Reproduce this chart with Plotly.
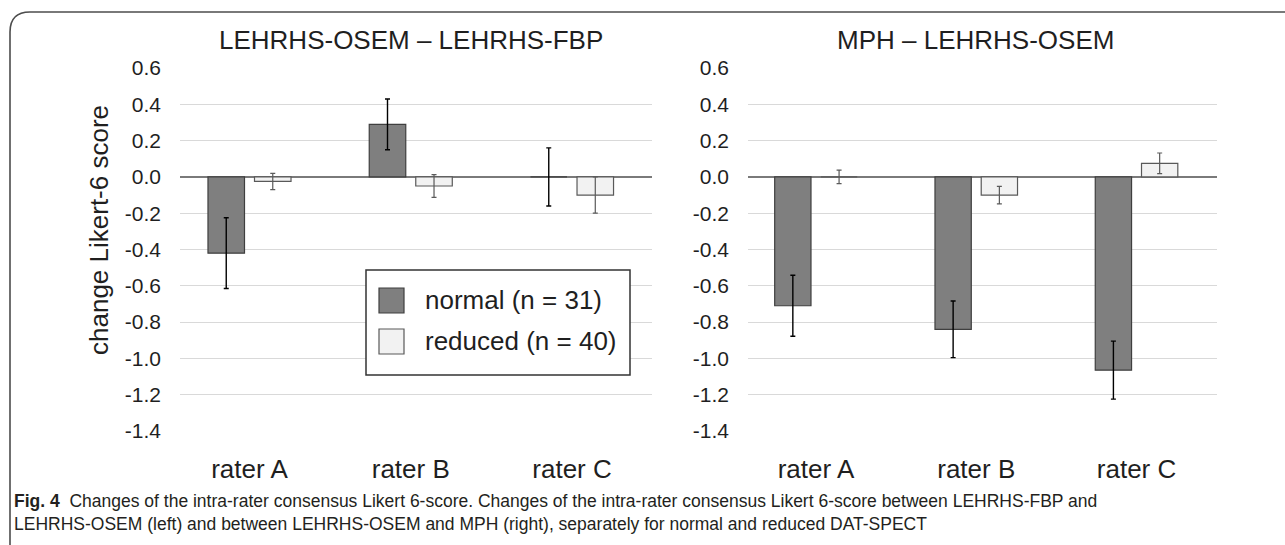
import plotly.graph_objects as go

W, H = 1285, 545

categories = ["rater A", "rater B", "rater C"]
series_names = ["normal (n = 31)", "reduced (n = 40)"]

left_title = "LEHRHS-OSEM – LEHRHS-FBP"
right_title = "MPH – LEHRHS-OSEM"
y_title = "change Likert-6 score"

left_normal = [-0.42, 0.29, 0.0]
left_normal_err = [0.195, 0.14, 0.16]
left_reduced = [-0.025, -0.05, -0.10]
left_reduced_err = [0.045, 0.063, 0.10]

right_normal = [-0.71, -0.84, -1.065]
right_normal_err = [0.168, 0.156, 0.16]
right_reduced = [0.0, -0.10, 0.075]
right_reduced_err = [0.037, 0.048, 0.057]

y_ticks = [0.6, 0.4, 0.2, 0.0, -0.2, -0.4, -0.6, -0.8, -1.0, -1.2, -1.4]

caption_l1 = ("<b>Fig. 4</b>  Changes of the intra-rater consensus Likert 6-score. Changes of the intra-rater "
              "consensus Likert 6-score between LEHRHS-FBP and")
caption_l2 = ("LEHRHS-OSEM (left) and between LEHRHS-OSEM and MPH (right), separately for normal and "
              "reduced DAT-SPECT")

FONT = "Liberation Sans, Arial, sans-serif"
TXT = "#1f1f1f"
NORMAL_FILL, NORMAL_LINE = "#7f7f7f", "#3f3f3f"
REDUCED_FILL, REDUCED_LINE = "#f2f2f2", "#595959"


def px(x):
    return x / W


def py(y):
    return 1 - y / H


fig = go.Figure()

panels = [
    ("x", "y", left_normal, left_normal_err, left_reduced, left_reduced_err),
    ("x2", "y2", right_normal, right_normal_err, right_reduced, right_reduced_err),
]
for xa, ya, nv, ne, rv, re_ in panels:
    fig.add_trace(go.Bar(
        x=categories, y=nv, name=series_names[0], xaxis=xa, yaxis=ya,
        marker=dict(color=NORMAL_FILL, line=dict(color=NORMAL_LINE, width=1.2)),
        error_y=dict(type="data", array=ne, color="#000000", thickness=1.4, width=2.5),
        showlegend=False))
    fig.add_trace(go.Bar(
        x=categories, y=rv, name=series_names[1], xaxis=xa, yaxis=ya,
        marker=dict(color=REDUCED_FILL, line=dict(color=REDUCED_LINE, width=1.2)),
        error_y=dict(type="data", array=re_, color="#5a5a5a", thickness=1.2, width=2.5),
        showlegend=False))

ydom = [py(431), py(68)]
yax = dict(range=[-1.4005, 0.6005], domain=ydom, tickvals=y_ticks,
           ticktext=[f"{v:.1f}" for v in y_ticks], showgrid=True, gridcolor="#d9d9d9",
           gridwidth=1, zeroline=True, zerolinecolor="#7a7a7a", zerolinewidth=1.5,
           showline=False, ticks="", tickfont=dict(size=21, color=TXT, family=FONT),
           ticklabelstandoff=18, automargin=False)
xax = dict(showgrid=False, zeroline=False, showline=False, ticks="",
           tickfont=dict(size=26, color=TXT, family=FONT), ticklabelstandoff=20,
           automargin=False)

fig.update_layout(
    width=W, height=H, margin=dict(l=0, r=0, t=0, b=0, pad=0, autoexpand=False),
    paper_bgcolor="white", plot_bgcolor="white",
    barmode="group", bargap=0.423, bargroupgap=0.215,
    font=dict(family=FONT, color=TXT),
    showlegend=False,
    xaxis=dict(xax, domain=[px(180), px(652)], range=[-0.431, 2.496], anchor="y"),
    xaxis2=dict(xax, domain=[px(748), px(1217)], range=[-0.424, 2.502], anchor="y2"),
    yaxis=dict(yax, anchor="x"),
    yaxis2=dict(yax, anchor="x2"),
)


def note(text, x, y, size, xanchor="center", yanchor="middle", **kw):
    return dict(text=text, x=px(x), y=py(y), xref="paper", yref="paper", xanchor=xanchor,
                yanchor=yanchor, showarrow=False,
                font=kw.pop("font", dict(size=size, color=TXT, family=FONT)), **kw)


ann = [
    note(left_title, 411, 40, 26),
    note(right_title, 975, 40, 26),
    note(y_title, 99, 230, 26, textangle=-90),
    note(series_names[0], 423, 300, 26, xanchor="left"),
    note(series_names[1], 423, 341, 26, xanchor="left"),
    note(caption_l1 + "<br>" + caption_l2, 12, 512, 17.5, xanchor="left", align="left",
         font=dict(size=17.5, color="#231f20", family=FONT)),
]
fig.update_layout(annotations=ann)

shapes = []
# outer frame with rounded top-left corner
shapes.append(dict(type="path", xref="paper", yref="paper",
                   path=f"M {px(1290)},{py(12)} L {px(30)},{py(12)} Q {px(10)},{py(12)} {px(10)},{py(32)} L {px(10)},{py(550)}",
                   line=dict(color="#4d4d4d", width=1.6)))
# legend box
shapes.append(dict(type="rect", xref="paper", yref="paper", x0=px(366), x1=px(630), y0=py(375), y1=py(270),
                   line=dict(color="#333333", width=1.5), fillcolor="white", layer="above"))
shapes.append(dict(type="rect", xref="paper", yref="paper", x0=px(379), x1=px(404), y0=py(313), y1=py(288),
                   line=dict(color=NORMAL_LINE, width=1.2), fillcolor=NORMAL_FILL, layer="above"))
shapes.append(dict(type="rect", xref="paper", yref="paper", x0=px(379), x1=px(404), y0=py(354), y1=py(329),
                   line=dict(color=REDUCED_LINE, width=1.2), fillcolor=REDUCED_FILL, layer="above"))
fig.update_layout(shapes=shapes)

fig.write_html("out.html")
